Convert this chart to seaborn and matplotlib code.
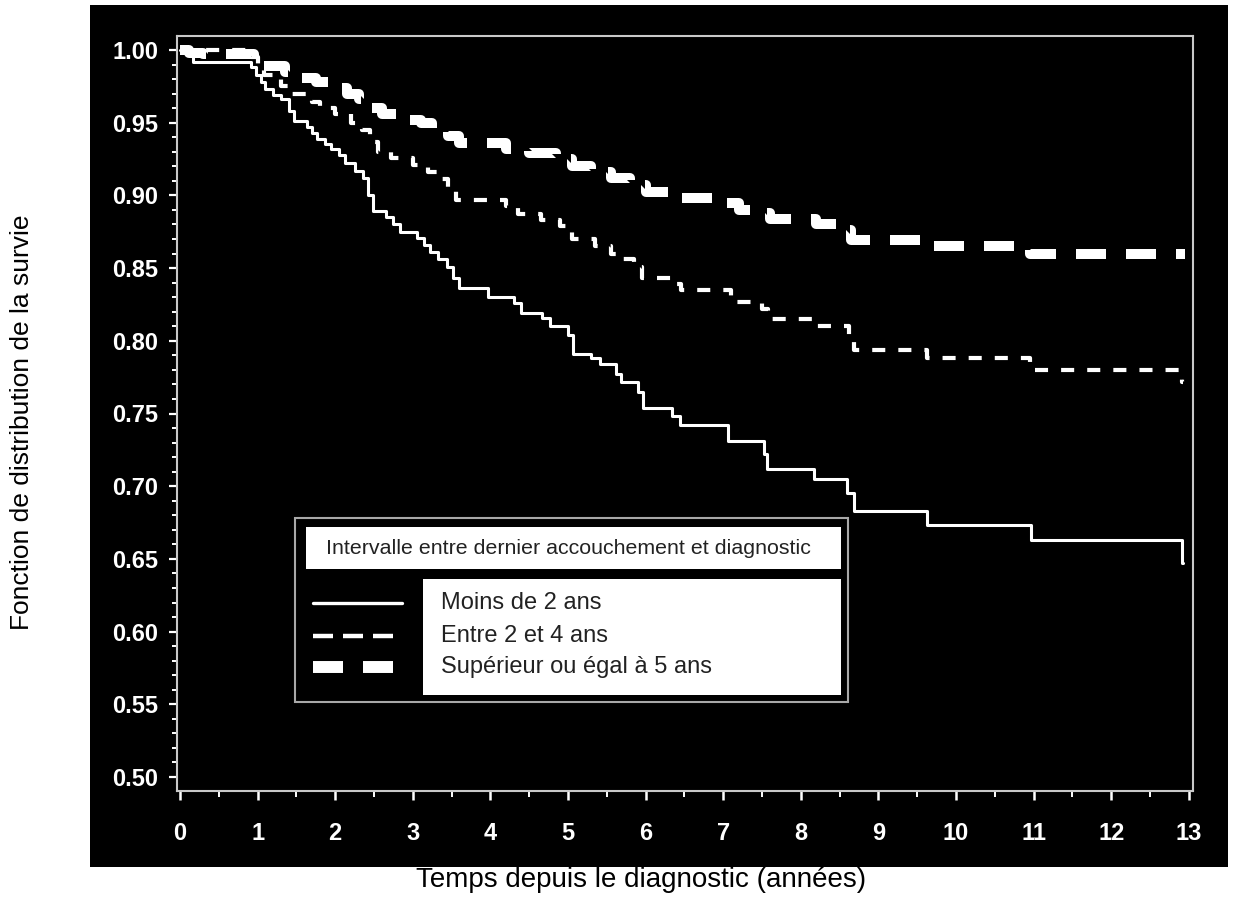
import numpy as np
import pandas as pd
import matplotlib
matplotlib.use("Agg")
import matplotlib.pyplot as plt
import seaborn as sns
from matplotlib.patches import Rectangle
from matplotlib.lines import Line2D
from matplotlib.ticker import FixedLocator

sns.set_theme(style="white")
plt.rcParams['font.family'] = ['Liberation Sans', 'DejaVu Sans']
plt.rcParams['lines.scale_dashes'] = False

# ---------------- data ----------------
group_labels = ["Moins de 2 ans", "Entre 2 et 4 ans", "Supérieur ou égal à 5 ans"]
legend_title = "Intervalle entre dernier accouchement et diagnostic"
x_label = "Temps depuis le diagnostic (années)"
y_label = "Fonction de distribution de la survie"
x_ticks = list(range(0, 14))
y_ticks = [0.50, 0.55, 0.60, 0.65, 0.70, 0.75, 0.80, 0.85, 0.90, 0.95, 1.00]

times_lt2 = [0, 0.17, 0.92, 0.98, 1.04, 1.10, 1.20, 1.30, 1.40, 1.47, 1.63, 1.70, 1.77,
             1.87, 1.95, 2.05, 2.13, 2.26, 2.36, 2.42, 2.49, 2.66, 2.75, 2.84, 3.05,
             3.15, 3.22, 3.33, 3.44, 3.52, 3.59, 3.97, 4.30, 4.40, 4.66, 4.77, 5.00,
             5.07, 5.30, 5.41, 5.62, 5.68, 5.90, 5.97, 6.34, 6.44, 7.06, 7.52, 7.56,
             8.17, 8.60, 8.68, 9.63, 10.97, 12.91, 12.93]
surv_lt2 = [1.000, 0.992, 0.988, 0.983, 0.978, 0.973, 0.969, 0.966, 0.958, 0.951, 0.947,
            0.943, 0.939, 0.935, 0.932, 0.928, 0.922, 0.917, 0.912, 0.900, 0.889, 0.885,
            0.880, 0.875, 0.871, 0.866, 0.861, 0.856, 0.851, 0.843, 0.836, 0.830, 0.826,
            0.819, 0.816, 0.810, 0.804, 0.791, 0.788, 0.784, 0.777, 0.772, 0.765, 0.754,
            0.748, 0.742, 0.731, 0.722, 0.712, 0.705, 0.695, 0.683, 0.673, 0.663, 0.647,
            0.647]

times_2to4 = [0, 0.85, 1.00, 1.08, 1.30, 1.40, 1.70, 1.80, 2.00, 2.20, 2.35, 2.45, 2.55,
              2.72, 3.00, 3.20, 3.35, 3.45, 3.55, 4.20, 4.35, 4.65, 4.90, 5.05, 5.35,
              5.55, 5.65, 5.85, 5.95, 6.35, 6.45, 7.10, 7.50, 7.58, 8.20, 8.62, 8.68,
              9.63, 10.95, 12.91, 12.93]
surv_2to4 = [1.000, 0.995, 0.988, 0.983, 0.975, 0.970, 0.964, 0.960, 0.956, 0.950, 0.945,
             0.937, 0.930, 0.926, 0.921, 0.916, 0.911, 0.905, 0.897, 0.893, 0.887, 0.883,
             0.879, 0.870, 0.865, 0.860, 0.856, 0.851, 0.843, 0.839, 0.835, 0.827, 0.822,
             0.815, 0.810, 0.803, 0.794, 0.788, 0.780, 0.772, 0.772]

times_ge5 = [0, 0.12, 0.30, 0.95, 1.05, 1.35, 1.55, 1.75, 1.95, 2.15, 2.30, 2.45, 2.60,
             2.80, 3.10, 3.25, 3.45, 3.60, 4.20, 4.50, 4.85, 5.05, 5.30, 5.55, 5.80,
             6.00, 6.35, 6.95, 7.20, 7.50, 7.60, 8.20, 8.50, 8.65, 9.60, 10.95, 12.95]
surv_ge5 = [1.000, 0.998, 0.997, 0.992, 0.989, 0.985, 0.981, 0.978, 0.974, 0.970, 0.966,
            0.960, 0.956, 0.952, 0.950, 0.946, 0.941, 0.936, 0.932, 0.929, 0.925, 0.920,
            0.916, 0.912, 0.907, 0.902, 0.898, 0.895, 0.890, 0.888, 0.884, 0.880, 0.876,
            0.869, 0.865, 0.860, 0.860]

# ---------------- figure ----------------
W, H = 1246, 914
fig = plt.figure(figsize=(W / 100, H / 100), dpi=100)
fig.patch.set_facecolor("white")

def fx(px):
    return px / W

def fy(py):
    return 1 - py / H

fig.add_artist(Rectangle((fx(90), fy(867)), fx(1228) - fx(90), fy(5) - fy(867),
                         transform=fig.transFigure, facecolor="black",
                         edgecolor="none", zorder=-1))

ax = fig.add_axes([fx(177), fy(791), fx(1193) - fx(177), fy(36) - fy(791)])
ax.set_facecolor("black")

styles = [
    dict(linewidth=2.2, linestyle="-"),
    dict(linewidth=3.0, linestyle=(0, (9.4, 9.4))),
    dict(linewidth=7.2, linestyle=(0, (21.6, 14.4))),
]
series = [(times_lt2, surv_lt2), (times_2to4, surv_2to4), (times_ge5, surv_ge5)]
for (t, s), lab, st in zip(series, group_labels, styles):
    df = pd.DataFrame({"t": t, "s": s})
    sns.lineplot(data=df, x="t", y="s", ax=ax, estimator=None, sort=False,
                 drawstyle="steps-post", color="white", **st)

ax.set_xlim(-0.039, 13.054)
ax.set_ylim(0.4904, 1.0096)
ax.set_xlabel("")
ax.set_ylabel("")

ax.xaxis.set_major_locator(FixedLocator(x_ticks))
ax.xaxis.set_minor_locator(FixedLocator([x + 0.5 for x in x_ticks[:-1]]))
ax.yaxis.set_major_locator(FixedLocator(y_ticks))
ax.yaxis.set_minor_locator(FixedLocator([round(0.50 + 0.01 * i, 2) for i in range(51)]))
ax.set_xticklabels([str(x) for x in x_ticks])
ax.set_yticklabels([f"{y:.2f}" for y in y_ticks])

for lab in ax.get_xticklabels() + ax.get_yticklabels():
    lab.set_fontweight("bold")
    lab.set_fontsize(17)
    lab.set_color("white")

ax.tick_params(axis="y", which="major", direction="out", length=6, width=1.6,
               colors="white", pad=7.5, left=True)
ax.tick_params(axis="y", which="minor", direction="out", length=3.6, width=1.4,
               colors="white", left=True)
ax.tick_params(axis="x", which="major", direction="out", length=6.5, width=1.8,
               colors="white", pad=16, bottom=True)
ax.tick_params(axis="x", which="minor", direction="out", length=4.5, width=1.4,
               colors="white", bottom=True)

for sp in ax.spines.values():
    sp.set_color("#c8c8c8")
    sp.set_linewidth(1.5)
    sp.set_visible(True)

# axis titles
fig.text(fx(641), fy(880), x_label, ha="center", va="center", fontsize=20, color="black")
fig.text(fx(22), fy(422), y_label, ha="center", va="center", rotation=90,
         fontsize=19, color="black")

# ---------------- legend ----------------
fig.add_artist(Rectangle((fx(295), fy(702)), fx(848) - fx(295), fy(518) - fy(702),
                         transform=fig.transFigure, facecolor="black",
                         edgecolor="#a8a8a8", linewidth=1.5, zorder=5))
fig.add_artist(Rectangle((fx(306), fy(569)), fx(841) - fx(306), fy(527) - fy(569),
                         transform=fig.transFigure, facecolor="white",
                         edgecolor="none", zorder=6))
fig.add_artist(Rectangle((fx(423), fy(695)), fx(841) - fx(423), fy(579) - fy(695),
                         transform=fig.transFigure, facecolor="white",
                         edgecolor="none", zorder=6))
fig.text(fx(326), fy(548), legend_title, ha="left", va="center", fontsize=15.4,
         color="#222222", zorder=7)

leg_styles = [
    dict(linewidth=2.4, linestyle="-"),
    dict(linewidth=3.2, linestyle=(0, (14.4, 7.2))),
    dict(linewidth=8.6, linestyle=(0, (21.6, 14.4))),
]
row_y = [603, 636, 667]
for lab, st, ry in zip(group_labels, leg_styles, row_y):
    fig.add_artist(Line2D([fx(313), fx(402)], [fy(ry), fy(ry)], transform=fig.transFigure,
                          color="white", zorder=7, **st))
    fig.text(fx(441), fy(ry), lab, ha="left", va="center", fontsize=17,
             color="#222222", zorder=7)

fig.savefig("out.png", dpi=100, facecolor="white")
